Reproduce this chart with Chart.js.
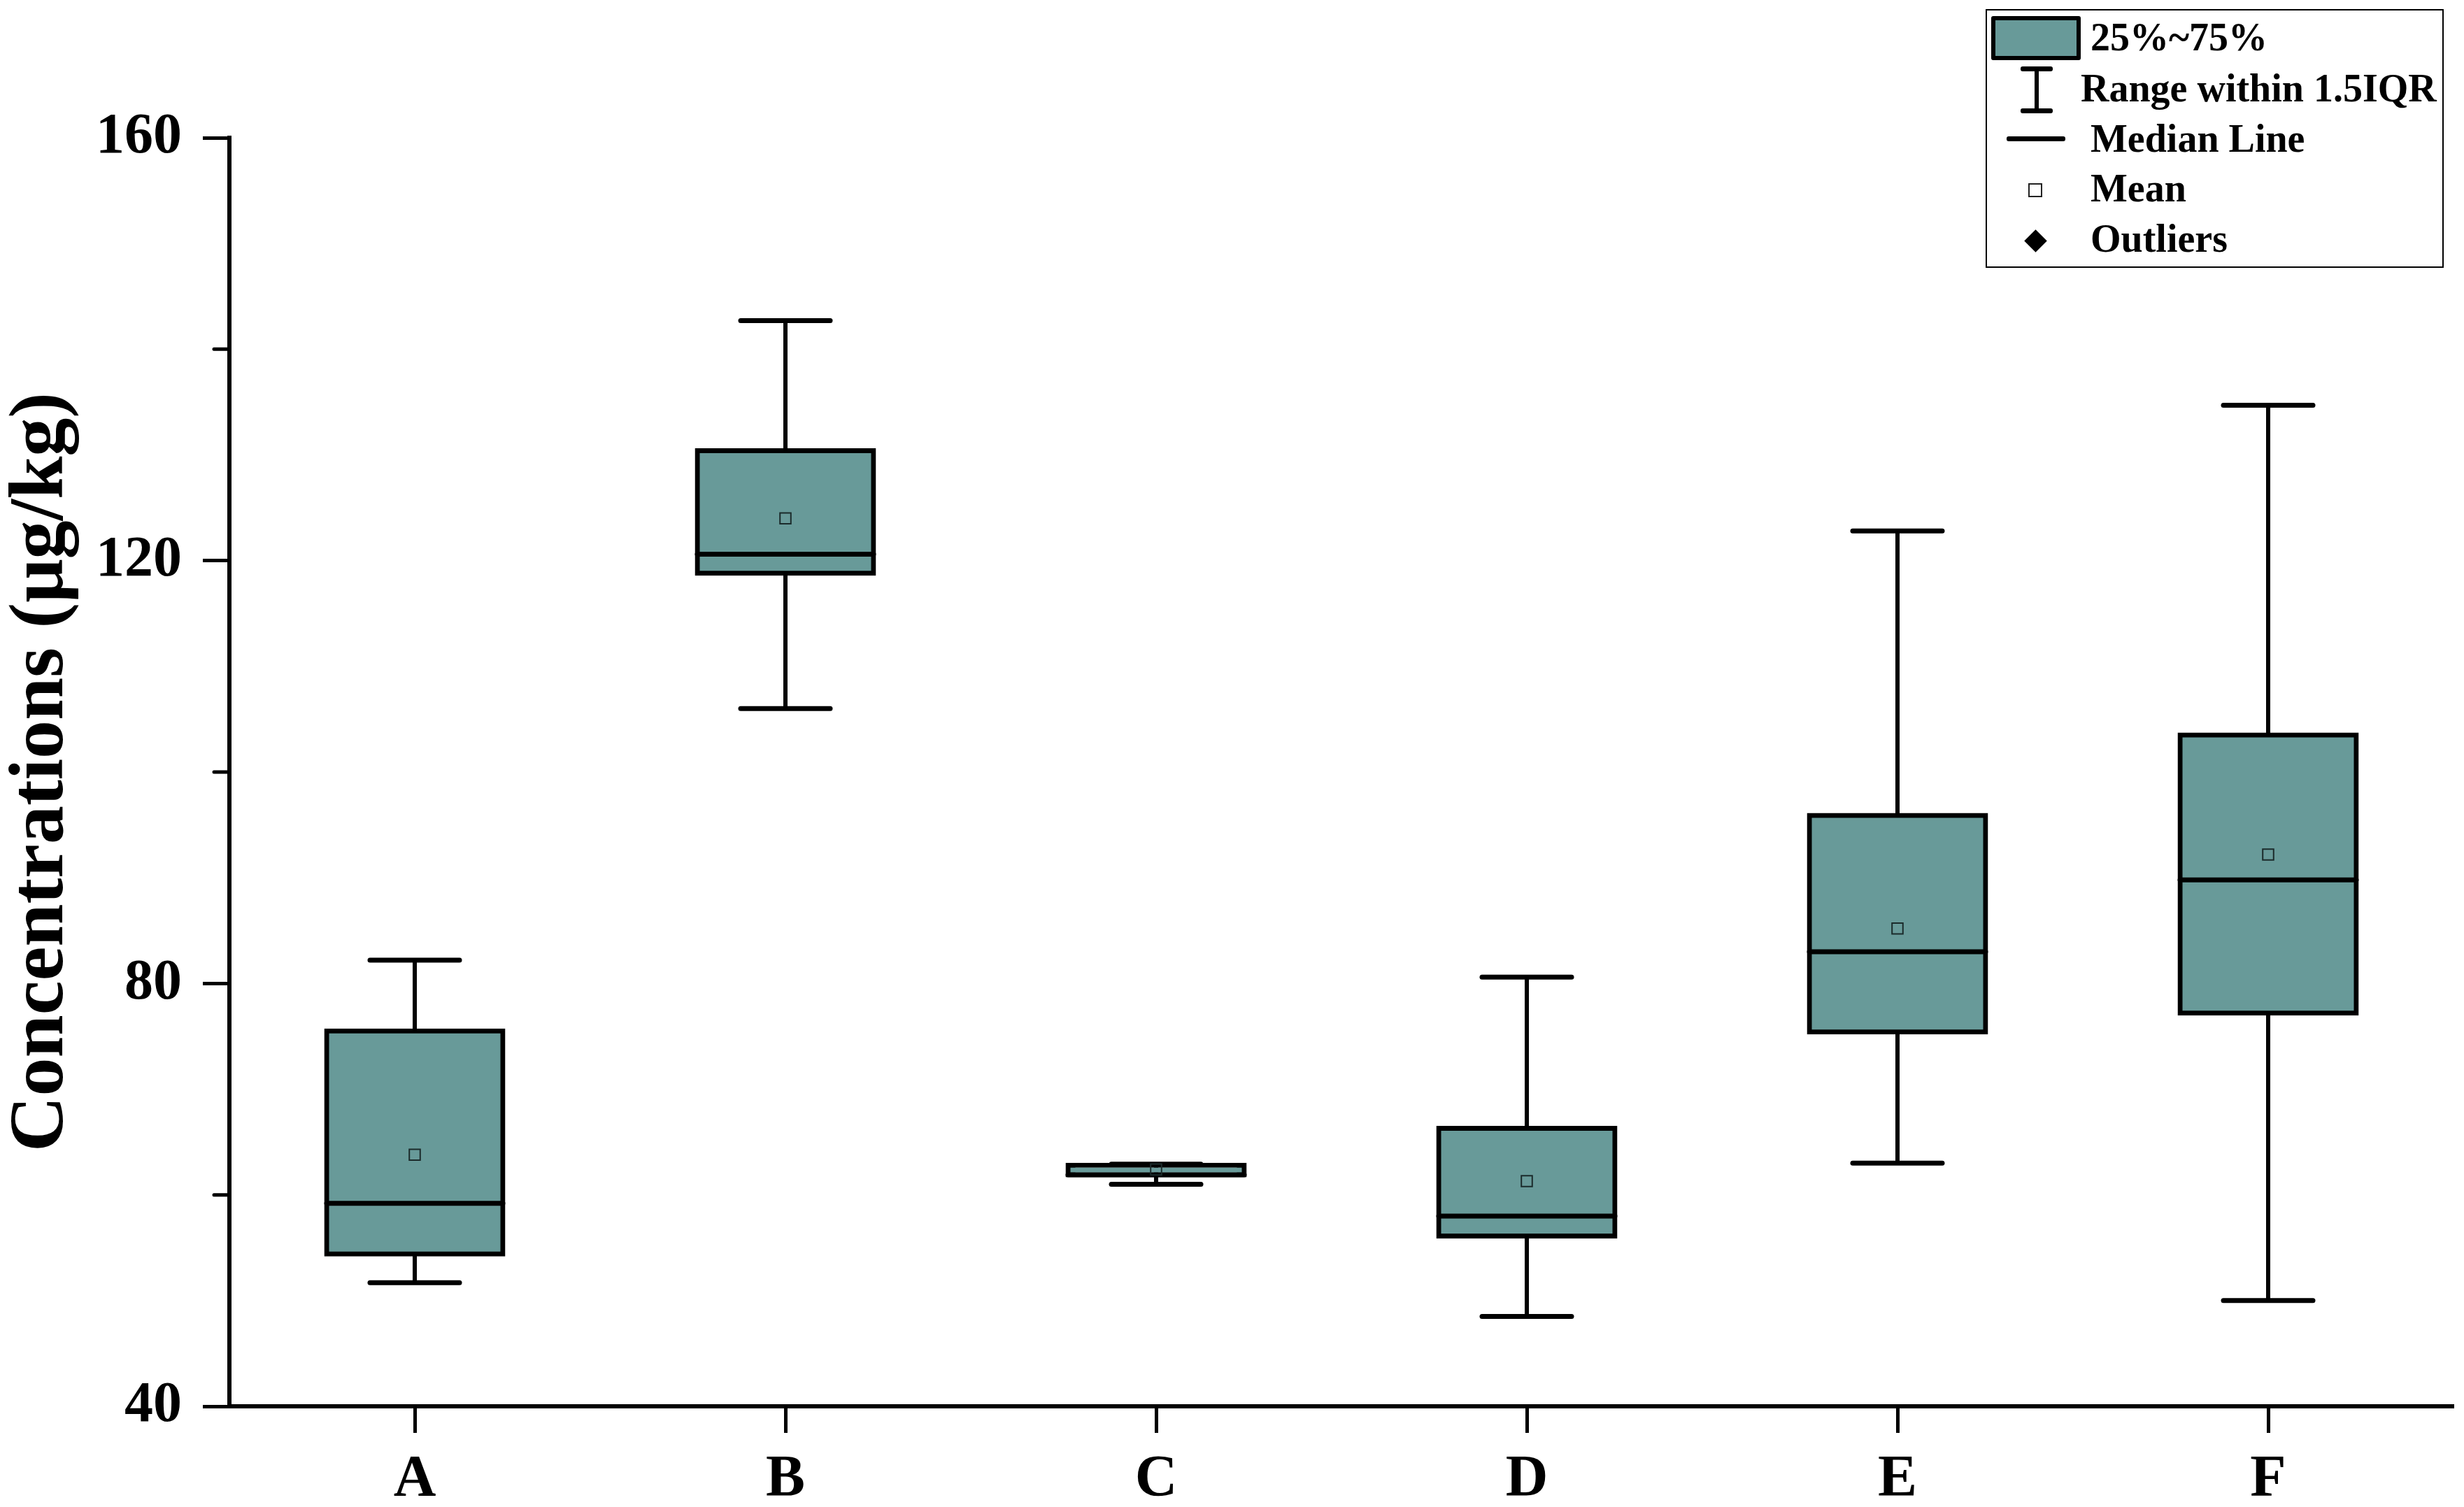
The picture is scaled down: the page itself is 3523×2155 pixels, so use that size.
<!DOCTYPE html>
<html>
<head>
<meta charset="utf-8">
<script src="https://cdn.jsdelivr.net/npm/chart.js@4.4.1/dist/chart.umd.min.js"></script>
<style>
  html, body { margin: 0; padding: 0; background: #fff; }
  #wrap { position: relative; width: 3523px; height: 2155px; }
  #c { position: absolute; left: 0; top: 0; width: 3523px; height: 2155px; }
  #legend { position: absolute; left: 2839px; top: 13px; width: 655px; height: 370px;
            border: 2px solid #000; box-sizing: border-box; background: #fff;
            font-family: 'Liberation Serif', 'Times New Roman', serif; font-weight: bold; }
  #legend .t { position: absolute; font-size: 56px; line-height: 56px; white-space: nowrap; color: #000; }
  #legend .s { position: absolute; box-sizing: border-box; }
</style>
</head>
<body>
<div id="wrap">
  <canvas id="c" width="3523" height="2155"></canvas>
  <div id="legend">
    <div class="s" style="left:6px;top:8px;width:128px;height:63px;border:6px solid #000;border-radius:3px;background:#689a99;"></div>
    <div class="t" style="left:148px;top:10px;">25%~75%</div>
    <div class="s" style="left:68px;top:83px;width:6px;height:60px;background:#000;"></div>
    <div class="s" style="left:48px;top:80px;width:46px;height:7px;background:#000;border-radius:3px;"></div>
    <div class="s" style="left:48px;top:140px;width:46px;height:7px;background:#000;border-radius:3px;"></div>
    <div class="t" style="left:134px;top:83px;">Range within 1.5IQR</div>
    <div class="s" style="left:28px;top:180px;width:84px;height:7px;background:#000;border-radius:3px;"></div>
    <div class="t" style="left:148px;top:155px;">Median Line</div>
    <div class="s" style="left:59px;top:247px;width:20px;height:20px;border:2px solid #222;background:#fff;"></div>
    <div class="t" style="left:148px;top:226px;">Mean</div>
    <div class="s" style="left:58px;top:318px;width:23px;height:23px;background:#000;transform:rotate(45deg);"></div>
    <div class="t" style="left:148px;top:298px;">Outliers</div>
  </div>
</div>
<script>
// ---- data ----
const categories = ['A', 'B', 'C', 'D', 'E', 'F'];
const whiskerLow  = [51.7, 106.0, 61.0, 48.5, 63.0, 50.0];
const q1          = [54.4, 118.8, 61.9, 56.1, 75.4, 77.2];
const median      = [59.2, 120.6, 61.9, 58.0, 83.0, 89.8];
const q3          = [75.5, 130.4, 62.8, 66.3, 95.9, 103.5];
const whiskerHigh = [82.2, 142.7, 62.9, 80.6, 122.8, 134.7];
const mean        = [63.8, 124.0, 62.4, 61.3, 85.2, 92.2];
const yMajorTicks = [40, 80, 120, 160];
const yMinorTicks = [60, 100, 140];

const BOX_COLOR = '#689a99';
const FONT = 'Liberation Serif';
Chart.defaults.font.family = FONT;
Chart.defaults.color = '#000';

const minorTickPlugin = {
  id: 'minorTicks',
  afterDatasetsDraw(chart) {
    const y = chart.scales.y;
    const ctx = chart.ctx;
    ctx.save();
    ctx.strokeStyle = '#000';
    ctx.lineWidth = 5;
    yMinorTicks.forEach(v => {
      const py = y.getPixelForValue(v);
      ctx.beginPath();
      ctx.moveTo(y.right - 22, py);
      ctx.lineTo(y.right, py);
      ctx.stroke();
    });
    ctx.restore();
  }
};

const roundCapPlugin = {
  id: 'roundCaps',
  beforeDatasetsDraw(chart) { chart.ctx.lineCap = 'round'; }
};

new Chart(document.getElementById('c'), {
  type: 'bar',
  data: {
    labels: categories,
    datasets: [
      {
        label: 'Whisker',
        data: categories.map((_, i) => [whiskerLow[i], whiskerHigh[i]]),
        backgroundColor: '#000',
        borderWidth: 0,
        barThickness: 6,
        inflateAmount: 0,
        grouped: false,
        order: 5
      },
      {
        label: '25%~75%',
        data: categories.map((_, i) => [q1[i], q3[i]]),
        backgroundColor: BOX_COLOR,
        borderColor: '#000',
        borderWidth: 7,
        borderSkipped: false,
        barThickness: 252,
        inflateAmount: 3.5,
        grouped: false,
        order: 4
      },
      {
        type: 'line',
        label: 'Upper cap',
        data: whiskerHigh,
        showLine: false,
        pointStyle: 'line',
        pointRadius: 64,
        pointHoverRadius: 64,
        pointBorderWidth: 7,
        pointBorderColor: '#000',
        order: 3
      },
      {
        type: 'line',
        label: 'Lower cap',
        data: whiskerLow,
        showLine: false,
        pointStyle: 'line',
        pointRadius: 64,
        pointHoverRadius: 64,
        pointBorderWidth: 7,
        pointBorderColor: '#000',
        order: 3
      },
      {
        type: 'line',
        label: 'Median Line',
        data: median,
        showLine: false,
        pointStyle: 'line',
        pointRadius: 126,
        pointHoverRadius: 126,
        pointBorderWidth: 7,
        pointBorderColor: '#000',
        order: 2
      },
      {
        type: 'line',
        label: 'Mean',
        data: mean,
        showLine: false,
        pointStyle: 'rect',
        pointRadius: 11,
        pointHoverRadius: 11,
        pointBorderWidth: 2,
        pointBorderColor: '#1b2b2b',
        pointBackgroundColor: 'rgba(0,0,0,0)',
        order: 1
      }
    ]
  },
  options: {
    responsive: false,
    devicePixelRatio: 1,
    animation: false,
    layout: { autoPadding: false, padding: { top: 197, right: 15, left: 0, bottom: 0 } },
    plugins: {
      legend: { display: false },
      tooltip: { enabled: false }
    },
    scales: {
      x: {
        type: 'category',
        offset: true,
        grid: {
          offset: false,
          drawOnChartArea: false,
          drawTicks: true,
          tickLength: 38,
          tickWidth: 5,
          tickColor: '#000'
        },
        border: { display: true, width: 6, color: '#000' },
        ticks: {
          font: { family: FONT, size: 84, weight: 'bold' },
          color: '#000',
          padding: 18,
          maxRotation: 0
        },
        afterFit(scale) { scale.height = 144; }
      },
      y: {
        type: 'linear',
        min: 40,
        max: 160,
        grid: {
          drawOnChartArea: false,
          drawTicks: true,
          tickLength: 38,
          tickWidth: 5,
          tickColor: (ctx) => yMajorTicks.includes(ctx.tick && ctx.tick.value) ? '#000' : 'rgba(0,0,0,0)'
        },
        border: { display: true, width: 6, color: '#000' },
        ticks: {
          stepSize: 20,
          font: { family: FONT, size: 82, weight: 'bold' },
          color: '#000',
          padding: 30,
          callback: (v) => yMajorTicks.includes(v) ? String(v) : ''
        },
        title: {
          display: true,
          text: 'Concentrations (μg/kg)',
          font: { family: FONT, size: 110, weight: 'bold', lineHeight: 1.1 },
          color: '#000',
          padding: 0
        },
        afterFit(scale) { scale.width = 328; }
      }
    }
  },
  plugins: [roundCapPlugin, minorTickPlugin]
});
</script>
</body>
</html>
